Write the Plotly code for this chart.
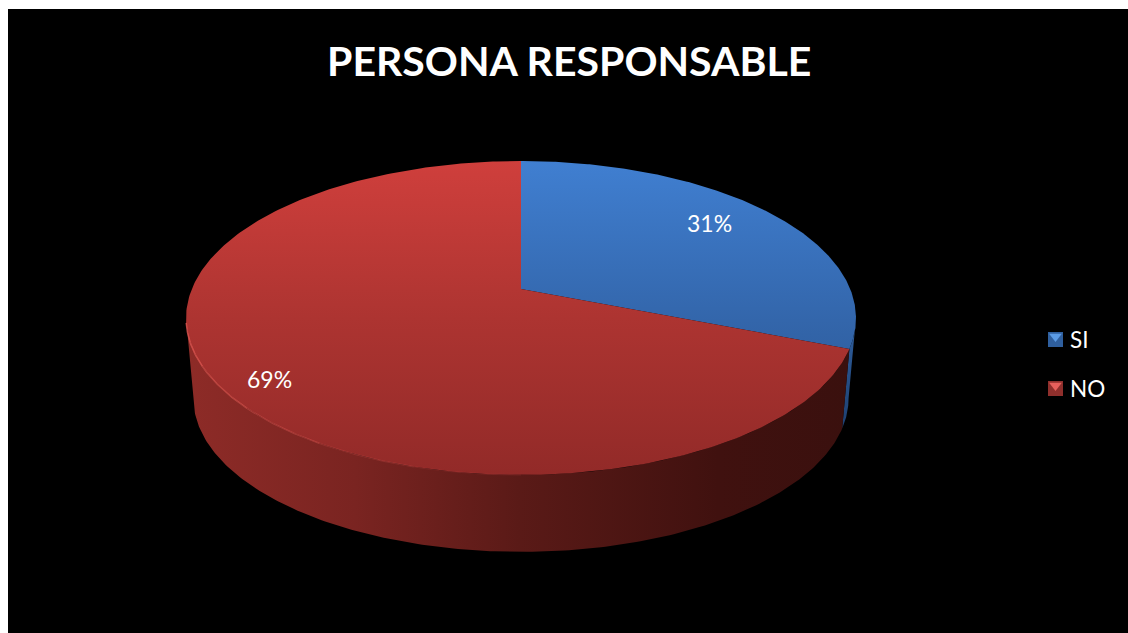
import numpy as np
import plotly.graph_objects as go

# Survey shares
categories = ["SI", "NO"]
values = [31, 69]
value_labels = ["31%", "69%"]
chart_title = "PERSONA RESPONSABLE"

# Page-pixel frame of the drawing area
WIDTH, HEIGHT = 1128, 633
FONT = "Lato, 'Open Sans', sans-serif"

# Tilted disc seen in perspective: apex position, half axes and depth factor
APEX_X, APEX_Y = 521.0, 289.0
AX, AY, PERSP = 329.2, 151.6, 0.1847
# Lower rim of the disc: slightly smaller and further down
BASE_SCALE, BASE_Y = 0.978, 370.0


def project(theta, radius=1.0, scale=1.0, centre_y=APEX_Y):
    """Map a clockwise angle from 12 o'clock on the disc to axis coordinates."""
    px = np.sin(theta) * radius
    pz = np.cos(theta) * radius
    w = 1 + PERSP * pz
    return APEX_X + scale * AX * px / w, centre_y - scale * AY * pz / w


def arc(start, stop, n=160):
    return np.linspace(start, stop, n)


fractions = np.array(values, dtype=float) / sum(values)
edges = np.concatenate([[0], np.cumsum(fractions)]) * 2 * np.pi
widest = np.arccos(-PERSP)  # angle at which the outline reaches its right edge
left_limit = 2 * np.pi - widest


def vertical(stops, start, stop):
    return dict(type="vertical", colorscale=stops, start=start, stop=stop)


def horizontal(stops, start, stop):
    return dict(type="horizontal", colorscale=stops, start=start, stop=stop)


fig = go.Figure()


def add_fill(x, y, gradient):
    fig.add_trace(go.Scatter(
        x=x, y=y, mode="lines", line=dict(width=0), fill="toself",
        fillgradient=gradient, hoverinfo="skip", showlegend=False,
    ))


# Outer wall: the blue sliver sits behind the long red section
th = arc(widest, edges[1], 40)
tx, ty = project(th)
bx, by = project(th[::-1], scale=BASE_SCALE, centre_y=BASE_Y)
add_fill(np.r_[tx, bx], np.r_[ty, by],
         vertical([[0, "#2f5f9e"], [1, "#1f4274"]], 320, 420))

th = arc(edges[1], left_limit, 220)
tx, ty = project(th)
bx, by = project(th[::-1], scale=BASE_SCALE, centre_y=BASE_Y)
add_fill(np.r_[tx, bx], np.r_[ty, by],
         horizontal([[0, "#8d2b27"], [0.25, "#7a2421"], [0.5, "#5a1a17"],
                     [0.8, "#40110f"], [1, "#3a100e"]], 190, 850))

# Top faces, both lit from the far edge
top_gradients = [
    [[0, "#407fd1"], [0.55, "#3264a8"], [1, "#2a548c"]],
    [[0, "#cf3f3c"], [0.5, "#ad3431"], [1, "#922a28"]],
]
for i, stops in enumerate(top_gradients):
    th = arc(edges[i], edges[i + 1], 300)
    x, y = project(th)
    add_fill(np.r_[APEX_X, x, APEX_X], np.r_[APEX_Y, y, APEX_Y],
             vertical(stops, 161, 475))

# Bevel highlight along the front-left rim, fading towards the front
rim_alpha = [0.10, 0.22, 0.38, 0.55, 0.72]
rim_edges = np.linspace(np.pi, left_limit - 0.03, len(rim_alpha) + 1)
for alpha, a, b in zip(rim_alpha, rim_edges[:-1], rim_edges[1:]):
    x, y = project(arc(a, b, 40))
    fig.add_trace(go.Scatter(
        x=x, y=y, mode="lines", hoverinfo="skip", showlegend=False,
        line=dict(color=f"rgba(232,92,86,{alpha})", width=1.5),
    ))

# Legend swatches: a square with a lighter wedge on top
legend_y = [339.5, 388.5]
swatch = ["#2f5f9e", "#8f2f2c"]
wedge = ["#5b9be6", "#e8605c"]
for yy, c, w in zip(legend_y, swatch, wedge):
    fig.add_trace(go.Scatter(
        x=[1055.5], y=[yy], mode="markers", hoverinfo="skip", showlegend=False,
        marker=dict(symbol="square", size=15, color=c),
    ))
    fig.add_trace(go.Scatter(
        x=[1055.5], y=[yy - 3], mode="markers", hoverinfo="skip", showlegend=False,
        marker=dict(symbol="triangle-down", size=11, color=w),
    ))

# Percentage labels on the slices
label_xy = [(709, 223), (269, 379)]
annotations = [
    dict(x=lx, y=ly, text=t, showarrow=False, xref="x", yref="y",
         font=dict(family=FONT, size=23, color="white"))
    for t, (lx, ly) in zip(value_labels, label_xy)
]
# Category names beside the swatches
annotations += [
    dict(x=1068, y=yy, text=name, showarrow=False, xref="x", yref="y", xanchor="left",
         font=dict(family=FONT, size=22.5, color="white"))
    for name, yy in zip(categories, legend_y)
]
annotations.append(dict(
    x=569, y=60, text=f"<b>{chart_title}</b>", showarrow=False, xref="x", yref="y",
    font=dict(family=FONT, size=41, color="white"),
))

fig.update_layout(
    width=WIDTH, height=HEIGHT,
    margin=dict(l=0, r=0, t=0, b=0),
    paper_bgcolor="white", plot_bgcolor="white",
    showlegend=False,
    annotations=annotations,
    shapes=[dict(type="rect", xref="x", yref="y", x0=8, y0=9, x1=WIDTH, y1=HEIGHT,
                 fillcolor="black", line=dict(width=0), layer="below")],
    xaxis=dict(range=[0, WIDTH], visible=False, fixedrange=True),
    yaxis=dict(range=[HEIGHT, 0], visible=False, fixedrange=True),
)

fig.write_html("out.html", config=dict(displayModeBar=False))
